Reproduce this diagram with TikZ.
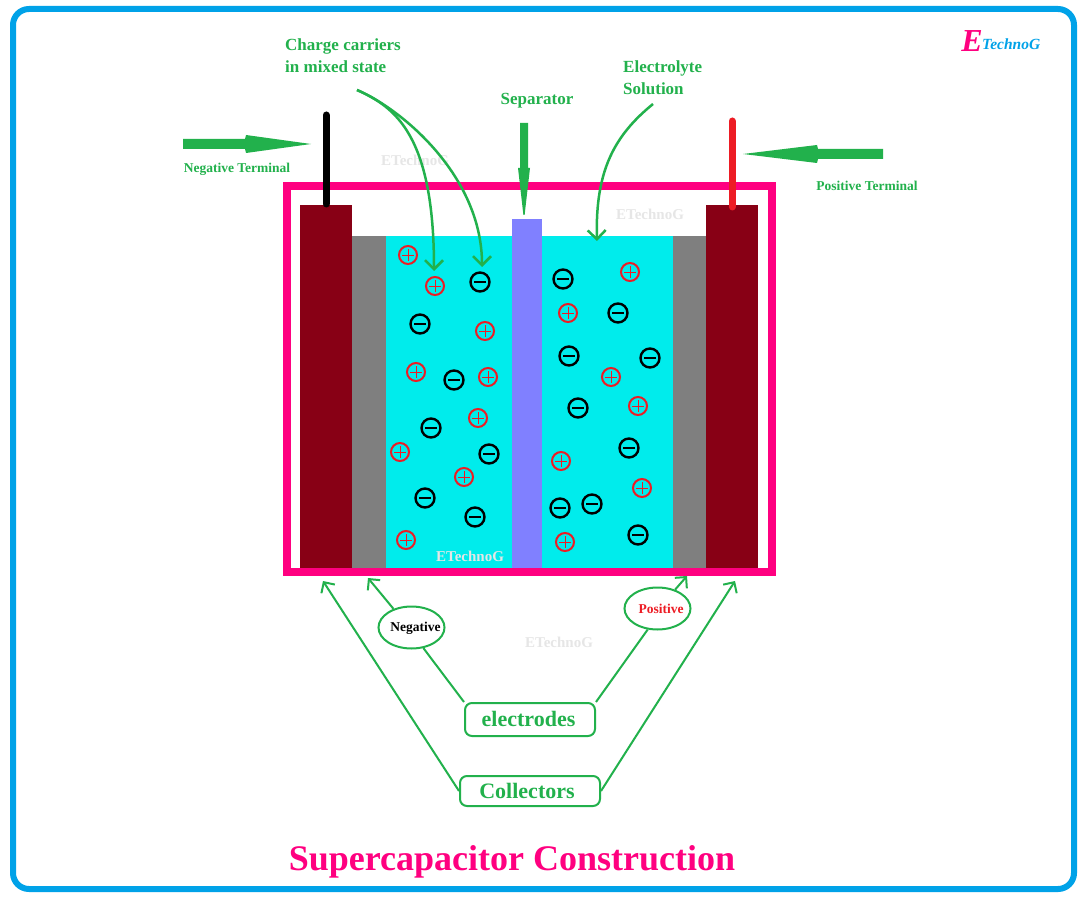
\documentclass[tikz,border=0pt]{standalone}
\usepackage{fontspec}
\setmainfont{Liberation Serif}
\usetikzlibrary{arrows.meta,shapes.geometric}
\definecolor{gn}{HTML}{22B14C}
\definecolor{rd}{HTML}{ED1C24}
\definecolor{dkred}{HTML}{880015}
\definecolor{pk}{HTML}{FF0080}
\definecolor{cy}{HTML}{00ECEC}
\definecolor{sepc}{HTML}{8080FF}
\definecolor{gy}{HTML}{7F7F7F}
\definecolor{fr}{HTML}{00A2E8}
\definecolor{wm}{HTML}{E6E6E6}
\tikzset{
 x=1pt,y=-1pt,
 lab/.style={font=\bfseries\fontsize{17}{22}\selectfont,text=gn,align=left,inner sep=0pt},
 small/.style={font=\bfseries\fontsize{13.5}{16}\selectfont,text=gn,inner sep=0pt},
 water/.style={font=\bfseries\fontsize{15}{18}\selectfont,text=wm,inner sep=0pt},
 ell/.style={ellipse,draw=gn,line width=2pt,minimum width=66pt,minimum height=42pt,inner sep=0pt,fill=white},
 boxn/.style={draw=gn,line width=2pt,rounded corners=7pt,inner sep=0pt,font=\bfseries\fontsize{22}{26}\selectfont,text=gn},
 conn/.style={draw=gn,line width=2pt},
 barb/.style={conn,-{Straight Barb[length=8pt,width=16pt,line width=2pt]}},
 curvy/.style={draw=gn,line width=2.5pt,-{Straight Barb[length=9pt,width=18pt,line width=2.5pt]}},
 ionp/.style={circle,draw=rd,line width=2pt,minimum size=18pt,inner sep=0pt,
   path picture={\draw[rd,line width=.8pt] (path picture bounding box.center)+(-6,0)--+(6,0) (path picture bounding box.center)+(0,-6)--+(0,6);}},
 ionm/.style={circle,draw=black,line width=2.4pt,minimum size=19pt,inner sep=0pt,
   path picture={\draw[black,line width=2.4pt] (path picture bounding box.center)+(-6,0)--+(6,0);}},
 bigarrow/.style={fill=gn,draw=none},
 terminal/.style={line width=7pt,line cap=round},
}
\begin{document}
\begin{tikzpicture}
\useasboundingbox (0,0) rectangle (1089,901);
\fill[white] (0,0) rectangle (1089,901);
\draw[fr,line width=6pt,rounded corners=16pt] (13,9) rectangle (1074,889);

% cell
\fill[cy] (386,236) rectangle (673,568);
\fill[gy] (352,236) rectangle (386,568);
\fill[gy] (673,236) rectangle (706,568);
\fill[sepc] (512,219) rectangle (542,568);
\fill[dkred] (300,205) rectangle (352,568);
\fill[dkred] (706,205) rectangle (758,568);
\draw[pk,line width=8pt] (287,186) rectangle (772,572);
\draw[terminal,black] (326,115) -- (326,204);
\draw[terminal,rd] (732,121) -- (732,207);

% ions
\foreach \n/\x/\y in {1/408/255,2/435/286,3/485/331,4/416/372,5/488/377,6/478/418,7/400/452,8/464/477,9/406/540,10/630/272,11/568/313,12/611/377,13/638/406,14/561/461,15/642/488,16/565/542}
  \node[ionp] (p\n) at (\x,\y) {};
\foreach \n/\x/\y in {1/480/282,2/420/324,3/454/380,4/431/428,5/489/454,6/425/498,7/475/517,8/563/279,9/618/313,10/569/356,11/650/358,12/578/408,13/629/448,14/560/508,15/592/504,16/638/535}
  \node[ionm] (m\n) at (\x,\y) {};

% watermarks
\node[water] (w1) at (415,160) {ETechnoG};
\node[water] (w2) at (650,214) {ETechnoG};
\node[water] (w3) at (470,556) {ETechnoG};
\node[water] (w4) at (559,642) {ETechnoG};

% big arrows
\fill[bigarrow] (183,139) -- (245,139) -- (246,135) -- (311,144) -- (246,153) -- (245,149) -- (183,149) -- cycle;
\fill[bigarrow] (883,149) -- (818,149) -- (817,145) -- (743,154) -- (817,163) -- (818,159) -- (883,159) -- cycle;
\fill[bigarrow] (520,123) -- (528,123) -- (528,168) -- (530,168) -- (524.6,215) -- (523.4,215) -- (518,168) -- (520,168) -- cycle;

% labels
\node[lab,anchor=north west] (charge) at (285,39) {Charge carriers\\in mixed state};
\node[lab,anchor=center] (sep) at (537,101) {Separator};
\node[lab,anchor=north west] (elec) at (623,61) {Electrolyte\\Solution};
\node[small] (negt) at (237,169) {Negative Terminal};
\node[small] (post) at (867,186) {Positive Terminal};

\coordinate (c0) at (357,90);
\coordinate (ca) at (434,271);
\coordinate (cb) at (482,267);
\coordinate (e0) at (653,104);
\coordinate (ea) at (597,241);
\draw[curvy] (c0) .. controls (395,107) and (434,135) .. (ca);
\draw[curvy] (c0) .. controls (400,108) and (482,175) .. (cb);
\draw[curvy] (e0) .. controls (615,135) and (595,170) .. (ea);

% lower part
\node[ell] (neg) at (411.5,627.5) {};
\node[font=\bfseries\fontsize{13.5}{16}\selectfont,inner sep=0pt] (negtxt) at (415.5,628) {Negative};
\node[ell] (pos) at (657.5,608.5) {};
\node[font=\bfseries\fontsize{13.5}{16}\selectfont,text=rd,inner sep=0pt] (postxt) at (661,609) {Positive};
\node[boxn,minimum width=130pt,minimum height=33pt] (electrodes) at (530,719.5) {\raisebox{1pt}{electrodes}\hspace*{3pt}};
\node[boxn,minimum width=140pt,minimum height=30pt] (coll) at (530,791) {\raisebox{1pt}{Collectors}\hspace*{6pt}};
\node[font=\bfseries\fontsize{36}{40}\selectfont,text=pk,inner sep=0pt] (title) at (512,862) {Supercapacitor Construction};

\coordinate (t1) at (368,578);
\coordinate (t2) at (323,581);
\coordinate (t3) at (687,576);
\coordinate (t4) at (735,581);
\draw[conn] (electrodes.north west) -- (neg.-60);
\draw[barb] (neg.134) -- (t1);
\draw[conn] (electrodes.north east) -- (pos.-115);
\draw[barb] (pos.47) -- (t3);
\draw[barb] (coll.west) -- (t2);
\draw[barb] (coll.east) -- (t4);

% logo
\node[font=\bfseries\itshape\fontsize{32}{34}\selectfont,text=pk,inner sep=0pt] (logoe) at (972,41) {E};
\node[font=\bfseries\itshape\fontsize{15.5}{18}\selectfont,text=fr,inner sep=0pt,anchor=west] (logot) at (982,44) {TechnoG};
\end{tikzpicture}
\end{document}
